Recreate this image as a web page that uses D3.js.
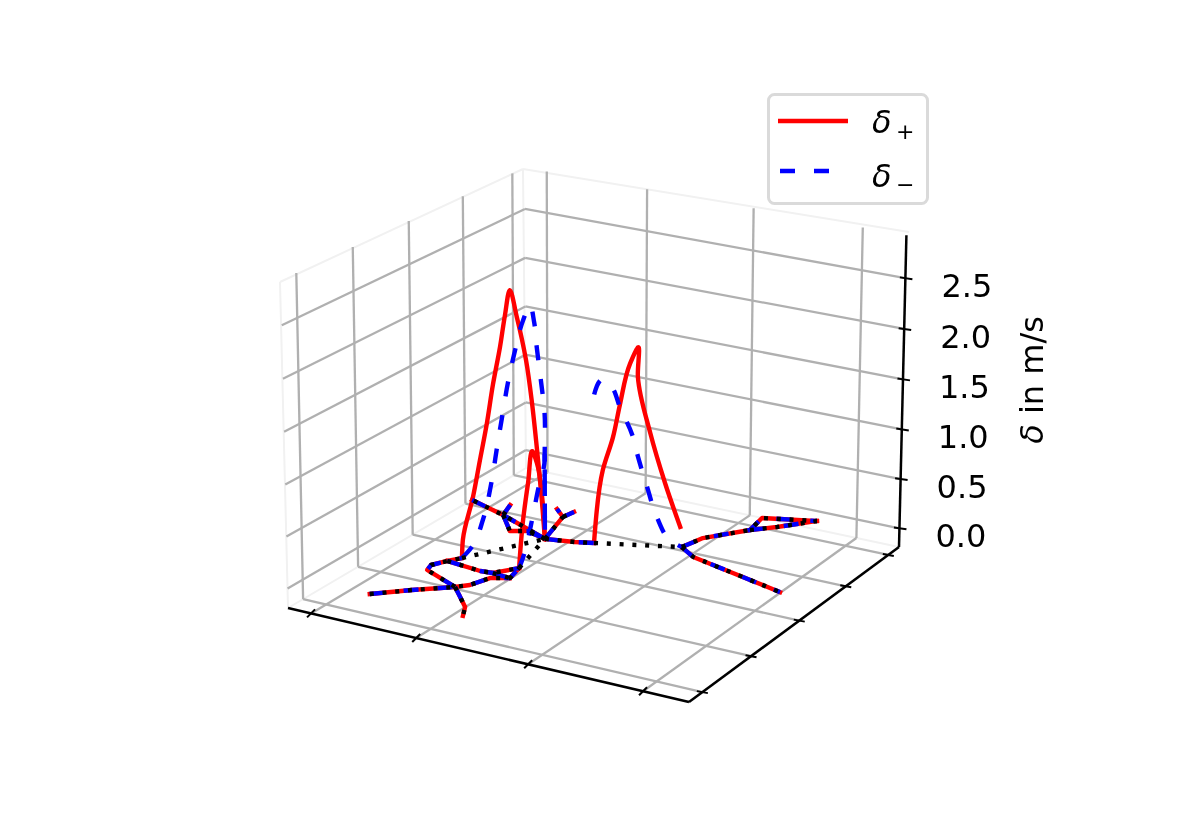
<!DOCTYPE html><html><head><meta charset="utf-8"><script src="https://cdn.jsdelivr.net/npm/d3@7"></script>
<style>html,body{margin:0;background:#fff}svg{display:block;filter:blur(0.45px)}text{font-family:"DejaVu Sans";fill:#000}</style></head><body><svg id="c" width="1184" height="826"></svg>
<script>
// ---------- data: network edges lying on delta = 0, as [x, y] in axis units ----------
const edgeA=[[.171,.063],[.237,.128],[.309,.190],[.331,.216],[.348,.272],[.386,.294],[.373,.354]];
const edgeB=[[.309,.190],[.341,.156],[.388,.105],[.410,.061]];
const edgeC=[[.309,.190],[.204,.242],[.196,.271],[.214,.309],[.233,.340]];
const edgeD=[[.214,.309],[.308,.296],[.338,.300],[.373,.354]];
const edgeE=[[.338,.300],[.386,.294]];
const edgeF=[[.333,.532],[.175,.610],[.064,.654]];
const edgeG=[[.175,.610],[.156,.672]];
const edgeH=[[.175,.610],[.240,.533],[.273,.553],[.333,.532]];
const edgeI=[[.333,.532],[.299,.669],[.262,.705]];
const edgeJ=[[.299,.669],[.305,.709]];
const edgeK=[[.333,.532],[.401,.550],[.441,.567]];
const edgeL=[[.624,.646],[.639,.718],[.708,.816],[.697,.896],[.736,.912],[.815,.944]];
const edgeM=[[.708,.816],[.753,.864],[.815,.944]];
const edgeN=[[.624,.646],[.675,.607],[.939,.524]];
// edges on which delta is non-zero: straight base of each
const base1=[[.233,.340],[.333,.532]];
const base2=[[.373,.354],[.333,.532]];
const base3=[[.441,.567],[.624,.646]];
// delta+ profiles [x, y, delta]
const plus1=[[.233,.340,0],[.234,.343,.18],[.247,.366,.58],[.255,.383,.92],[.264,.399,1.27],[.271,.414,1.63],[.280,.430,1.98],[.286,.442,2.28],[.292,.453,2.51],[.300,.469,2.24],[.311,.489,1.81],[.318,.503,1.37],[.324,.514,.90],[.329,.522,.50],[.333,.532,0]];
const plus2=[[.373,.354,0],[.366,.382,.40],[.359,.417,.74],[.351,.451,.99],[.345,.478,.84],[.338,.512,.45],[.333,.532,0]];
const plus3=[[.441,.567,0],[.443,.568,.13],[.459,.575,.73],[.480,.584,1.06],[.494,.590,1.38],[.515,.599,1.79],[.531,.606,1.95],[.531,.606,1.66],[.557,.617,1.12],[.588,.631,.63],[.620,.645,.20]];
// delta- profiles [x, y, delta]
const minus1=[[.233,.340,0],[.246,.366,.10],[.258,.389,.33],[.269,.410,.70],[.276,.422,1.02],[.282,.434,1.30],[.289,.448,1.62],[.298,.464,1.92],[.308,.483,2.20],[.316,.499,2.33],[.321,.508,2.16],[.324,.514,1.91],[.329,.523,1.58],[.333,.532,1.25],[.333,.532,.82],[.333,.532,0]];
const minus2=[[.373,.354,0],[.367,.381,.06],[.353,.443,.33],[.344,.484,.56],[.333,.532,.79],[.333,.532,.84],[.333,.532,.39],[.333,.532,0]];
const minus3=[[.441,.567,1.47],[.457,.574,1.62],[.474,.581,1.57],[.495,.590,1.35],[.520,.601,1.09],[.532,.606,.88],[.551,.615,.58],[.572,.624,.28],[.599,.636,.06],[.624,.646,0]];
const xTicks=[.06,.33,.61,.89];
const yTicks=[.058,.275,.50,.727,.944];
const zTicks=[0,.5,1,1.5,2,2.5];
const seriesLabels=["+","\u2212"];
const axisLabel=" in m/s";

// ---------- projection ----------
const A=[288,608],F=[689,702],R=[899,547],B=[526,468],TA=[280,282],TB=[523,169],TR=[909,232];
function buildMatrix(){const [x0,y0]=A,[x1,y1]=F,[x2,y2]=R,[x3,y3]=B;
 const dx1=x1-x2,dx2=x3-x2,sx=x0-x1+x2-x3,dy1=y1-y2,dy2=y3-y2,sy=y0-y1+y2-y3,den=dx1*dy2-dx2*dy1;
 const g=(sx*dy2-dx2*sy)/den,h=(dx1*sy-sx*dy1)/den;
 const p1=[x1-x0+g*x1,y1-y0+g*y1,g],p2=[x3-x0+h*x3,y3-y0+h*y3,h],p4=[x0,y0,1];
 const bases=[p4,[p2[0]+p4[0],p2[1]+p4[1],p2[2]+p4[2]],[p1[0]+p2[0]+p4[0],p1[1]+p2[1]+p4[1],p1[2]+p2[2]+p4[2]]],T=[TA,TB,TR];
 const Y=T.map(t=>t[1]),r=T.map((t,i)=>t[1]*bases[i][2]-bases[i][1]);
 const my=d3.mean(Y),mr=d3.mean(r),sl=d3.sum(Y,(v,i)=>(v-my)*(r[i]-mr))/d3.sum(Y,v=>(v-my)*(v-my));
 const hw=-sl,hy=mr+hw*my,hx=d3.mean(T,(t,i)=>t[0]*(bases[i][2]+hw)-bases[i][0]);
 return {p1,p2,p3:[hx,hy,hw],p4};}
const M=buildMatrix();
const xs=d3.scaleLinear().domain([0,1]).range([0,1]);
const ys=d3.scaleLinear().domain([0,1]).range([0,1]);
const zs=d3.scaleLinear().domain([-0.19,2.92]).range([0,1]);
function raw(x,y,w){const k=[0,1,2].map(i=>x*M.p1[i]+y*M.p2[i]+w*M.p3[i]+M.p4[i]);return [k[0]/k[2],k[1]/k[2]];}
const P=(x,y,z)=>raw(xs(x),ys(y),zs(z));
const zMin=zs.domain()[0],zMax=zs.domain()[1];

const svg=d3.select('#c');
const line=(a,b,c,w)=>svg.append('line').attr('x1',a[0]).attr('y1',a[1]).attr('x2',b[0]).attr('y2',b[1]).attr('stroke',c).attr('stroke-width',w);
const GRID='#b0b0b0',GW=2.3,LW=4.4;

// pane edges
[[A,B],[B,R],[TA,TB],[TB,TR],[B,TB],[A,TA]].forEach(s=>line(s[0],s[1],'#f1f1f1',2));
// grid
xTicks.forEach(x=>{line(P(x,0,zMin),P(x,1,zMin),GRID,GW);line(P(x,1,zMin),P(x,1,zMax),GRID,GW);});
yTicks.forEach(y=>{line(P(1,y,zMin),P(0,y,zMin),GRID,GW);line(P(0,y,zMin),P(0,y,zMax),GRID,GW);});
zTicks.forEach(z=>{line(P(0,0,z),P(0,1,z),GRID,GW);line(P(0,1,z),P(1,1,z),GRID,GW);});
// axes
line(A,F,'#000',2.5);line(F,R,'#000',2.5);line(R,P(1,1,zMax),'#000',2.5);
xTicks.forEach(x=>{const p=P(x,0,zMin);line([p[0]-4,p[1]+4],[p[0]+4,p[1]-4],'#000',2)});
yTicks.forEach(y=>{const p=P(1,y,zMin);line([p[0]-5.5,p[1]-1],[p[0]+5.5,p[1]+1],'#000',2)});
zTicks.forEach(z=>{const p=P(1,1,z);line([p[0]-5.5,p[1]-.8],[p[0]+7,p[1]+1],'#000',2);
 svg.append('text').attr('x',p[0]+36).attr('y',p[1]+19).attr('font-size',32).text(z.toFixed(1));});
const lab=svg.append('text').attr('transform','translate(1043,380) rotate(-90)').attr('text-anchor','middle').attr('font-size',32);
lab.append('tspan').attr('font-style','italic').text('\u03b4');lab.append('tspan').text(axisLabel);

// series
const flat=[edgeA,edgeB,edgeC,edgeD,edgeE,edgeF,edgeG,edgeH,edgeI,edgeJ,edgeK,edgeL,edgeM,edgeN];
const withZero=e=>e.map(d=>[d[0],d[1],0]);
const straight=d3.line().x(d=>P(d[0],d[1],d[2])[0]).y(d=>P(d[0],d[1],d[2])[1]);
const smooth=d3.line().curve(d3.curveCatmullRom.alpha(1)).x(d=>P(d[0],d[1],d[2])[0]).y(d=>P(d[0],d[1],d[2])[1]);
const draw=(rows,gen,col,cap,dash)=>svg.append('g').selectAll('path').data(rows).join('path').attr('d',gen)
 .attr('fill','none').attr('stroke',col).attr('stroke-width',LW).attr('stroke-linecap',cap).attr('stroke-linejoin','round').attr('stroke-dasharray',dash);
draw(flat.map(withZero),straight,'#ff0000','square',null);
draw([plus1,plus2,plus3],smooth,'#ff0000','square',null);
draw(flat.map(withZero),straight,'#0000ff','butt','15 19');
draw([minus1,minus2,minus3],smooth,'#0000ff','butt','15 19');
draw(flat.concat([base1,base2,base3]).map(withZero),straight,'#000','butt','4 8.8');

// legend
svg.append('rect').attr('x',768.5).attr('y',94.5).attr('width',159).attr('height',109).attr('rx',6).attr('fill','#fff').attr('stroke','#dadada').attr('stroke-width',3);
line([778,121],[848,121],'#ff0000',LW);
svg.append('line').attr('x1',780).attr('x2',848).attr('y1',171).attr('y2',171).attr('stroke','#0000ff').attr('stroke-width',LW).attr('stroke-dasharray','15 19');
[[133,139],[187,192]].forEach((b,i)=>{
 svg.append('text').attr('x',872).attr('y',b[0]).attr('font-size',32).attr('font-style','italic').text('\u03b4');
 svg.append('text').attr('x',896).attr('y',b[1]).attr('font-size',22).text(seriesLabels[i]);});
</script></body></html>
